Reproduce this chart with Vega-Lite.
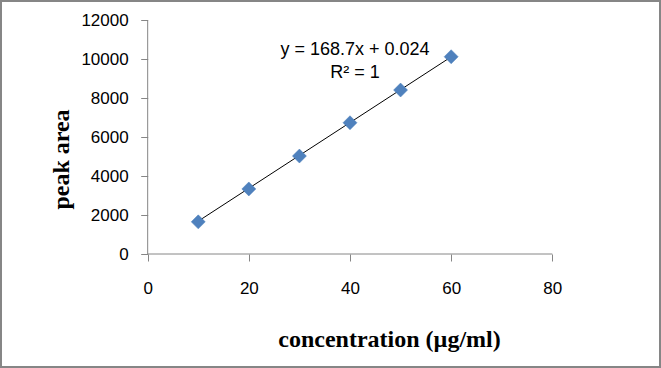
{
  "$schema": "https://vega.github.io/schema/vega-lite/v6.json",
  "width": 659,
  "height": 366,
  "autosize": {"type": "none"},
  "padding": {"left": 1, "top": 1, "right": 1, "bottom": 1},
  "background": "#ffffff",
  "config": {
    "view": {"stroke": "#868686", "strokeWidth": 2},
    "axis": {
      "grid": false,
      "domain": false,
      "tickColor": "#868686",
      "tickSize": 7,
      "tickWidth": 1,
      "labelFont": "Liberation Sans",
      "labelFontSize": 17,
      "labelColor": "#000000",
      "labelFlush": false,
      "labelOverlap": false,
      "titleFont": "Liberation Serif",
      "titleFontWeight": "bold",
      "titleFontSize": 24,
      "titleColor": "#000000"
    }
  },
  "datasets": {
    "points": [
      {"x": 10, "y": 1650},
      {"x": 20, "y": 3340},
      {"x": 30, "y": 5030},
      {"x": 40, "y": 6740},
      {"x": 50, "y": 8420},
      {"x": 60, "y": 10130}
    ],
    "trend": [
      {"x": 10, "y": 1687, "x2": 60, "y2": 10122}
    ],
    "axislines": [
      {"x": 0, "y": 0, "x2": 80, "y2": 0},
      {"x": 0, "y": 0, "x2": 0, "y2": 12000}
    ],
    "eq": [
      {"x": 40.98, "y": 10218, "label": "y = 168.7x + 0.024"},
      {"x": 40.98, "y": 9022, "label": "R² = 1"}
    ]
  },
  "encoding": {
    "x": {
      "field": "x",
      "type": "quantitative",
      "scale": {"domain": [-29.0, 101.29], "nice": false, "zero": false},
      "axis": {
        "values": [0, 20, 40, 60, 80],
        "format": "d",
        "offset": -113,
        "labelPadding": 19,
        "title": "concentration (µg/ml)",
        "titleX": 388,
        "titleY": 92,
        "titleBaseline": "alphabetic",
        "titleAlign": "center"
      }
    },
    "y": {
      "field": "y",
      "type": "quantitative",
      "scale": {"domain": [-5802, 12991], "nice": false, "zero": false},
      "axis": {
        "values": [0, 2000, 4000, 6000, 8000, 10000, 12000],
        "format": "d",
        "offset": -146.7,
        "labelPadding": 12.5,
        "title": "peak area",
        "titleX": -79,
        "titleY": 158,
        "titleAngle": 270,
        "titleBaseline": "alphabetic",
        "titleAlign": "center"
      }
    }
  },
  "layer": [
    {
      "data": {"name": "axislines"},
      "mark": {"type": "rule", "color": "#868686", "strokeWidth": 1},
      "encoding": {
        "x2": {"field": "x2"},
        "y2": {"field": "y2"}
      }
    },
    {
      "data": {"name": "trend"},
      "mark": {"type": "rule", "color": "#000000", "strokeWidth": 1},
      "encoding": {
        "x2": {"field": "x2"},
        "y2": {"field": "y2"}
      }
    },
    {
      "data": {"name": "points"},
      "mark": {"type": "point", "shape": "diamond", "filled": true, "size": 196, "color": "#4F81BD", "stroke": "#4A7EBB", "strokeWidth": 0.5, "opacity": 1},
      "encoding": {}
    },
    {
      "data": {"name": "eq"},
      "mark": {"type": "text", "font": "Liberation Sans", "fontSize": 18, "color": "#000000", "align": "center", "baseline": "alphabetic"},
      "encoding": {
        "text": {"field": "label", "type": "nominal"}
      }
    }
  ]
}
